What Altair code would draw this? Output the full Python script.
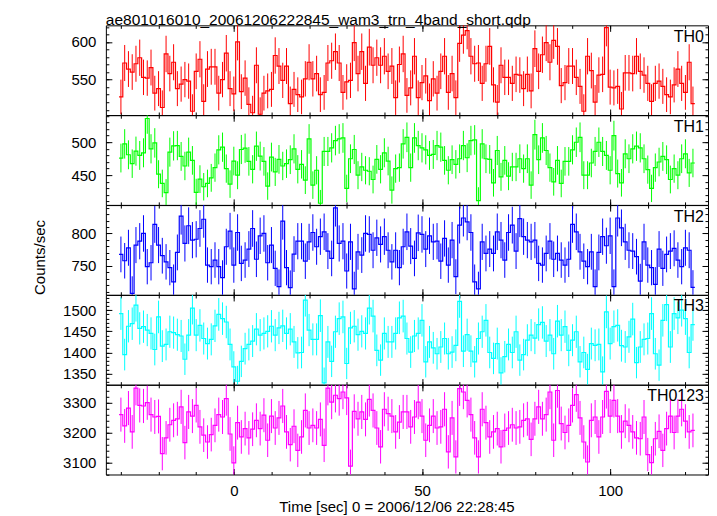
import altair as alt
import pandas as pd
import numpy as np

FONT = "Liberation Sans"
T0 = -30.0   # centre of first 1-s bin
BIN = 1.0
XDOM = [-34, 126]
XMAJOR = [0, 50, 100]
XMINOR = list(range(-30, 126, 10))
XTITLE = "Time [sec] 0 = 2006/12/06 22:28:45"
MAINTITLE = "ae801016010_20061206222845_wam3_trn_4band_short.qdp"

th0 = [527, 572, 564, 560, 571, 579, 553, 552, 566, 532,
       538, 513, 584, 558, 573, 538, 544, 550, 548, 508,
       561, 577, 521, 564, 567, 567, 532, 550, 585, 538,
       531, 600, 534, 552, 517, 506, 569, 504, 532, 535,
       537, 582, 568, 549, 568, 518, 537, 530, 527, 551,
       573, 551, 558, 530, 533, 572, 575, 587, 572, 533,
       547, 549, 599, 558, 587, 545, 593, 569, 579, 569,
       581, 561, 568, 526, 570, 584,
       529, 539, 581, 526, 546, 555, 522, 551, 532, 561,
       581, 533, 558, 526, 598, 609, 615, 581, 571, 572,
       545, 571, 594, 543, 520, 569, 553, 553, 545, 557,
       556, 538, 557, 535, 591, 561, 583, 599, 573, 602,
       594, 542, 546, 568, 568, 553, 541, 508, 581, 562,
       520, 556, 557, 619, 540, 539, 541, 511, 559, 559,
       558, 581, 561, 556, 545, 521, 545, 548, 541, 530,
       527, 543, 564, 545, 533, 573, 518]

th1 = [476, 497.5, 481, 467.5, 486.5, 480, 484, 536, 490, 499,
       451.5, 437.5, 423.5, 485, 494.5, 495, 478.5, 464, 485, 472.5,
       424, 444, 432.5, 437.5, 446, 461.5, 488.5, 492.5, 460, 436.5,
       471.5, 450, 489, 491, 471, 459, 494, 479, 471, 433.5,
       477.5, 455, 474, 464, 467.5, 473.5, 490, 459, 466.5, 442.5,
       505, 435, 457.5, 407.5, 486, 486, 491.5, 502.5, 505, 506.5,
       430, 475, 489, 450, 462.5, 457.5, 456, 443.5, 474, 459,
       484, 471.5, 427.5, 460, 461.5, 497.5, 507.5,
       461.5, 506.5, 495, 491.5, 488.5, 480, 481.5, 495, 492.5, 472.5,
       457.5, 473.5, 466.5, 475, 495, 476.5, 502.5, 503.5, 411.5, 497.5,
       475, 474, 438.5, 487.5, 447.5, 472.5, 448.5, 462.5, 462.5, 475,
       460, 475, 435, 511.5, 473.5, 506.5, 487.5, 461.5, 440, 472.5,
       437.5, 471, 471, 488.5, 500, 507.5, 450, 450, 468.5, 486,
       500, 486, 480, 457.5, 510, 452.5, 438.5, 482.5, 475, 490,
       494, 491.5, 475, 458.5, 430, 461.5, 470, 478.5, 473.5, 443.5,
       460, 450, 475, 482.5, 453.5, 468.5]

th2 = [767.5, 757.7, 777.8, 707, 782, 788, 800, 748.5, 754.6, 814,
       782, 765.5, 756, 747, 725, 770.6, 827, 784.5, 812, 789.7,
       791, 807.7, 822, 751, 748.5, 758.8, 748.5, 731.4, 779.4, 803.6,
       751, 801.5, 753.6, 758.8, 775.8, 807.7, 760, 796.4, 800, 754.6,
       782, 746, 717.5, 819, 747, 716, 768, 788, 788, 757,
       787, 801.5, 779.4, 795, 802.6, 772.7, 761.3, 839.7, 784.5, 788,
       741.8, 787, 714, 771.6, 766.5, 800, 798.5, 774, 793.3, 783,
       795, 774, 756, 774, 747, 779.4, 802.6,
       780.4, 761.3, 801, 798.5, 775.8, 796.4, 787, 788, 757, 792.3,
       751, 789.7, 733, 812.9, 824, 818, 801.5, 725, 714, 787,
       769, 775.8, 769, 802.6, 789.7, 758.8, 801.5, 812.9, 772.7, 823,
       795, 789.7, 787, 789.7, 753.6, 751, 769, 788, 760, 769,
       758.8, 751, 760, 814, 802.6, 771.6, 757, 748.5, 771.6, 717.5,
       770.6, 795, 781, 796.4, 717.5, 824, 808.8, 787, 774, 772.7,
       764, 726, 787, 751, 747, 721, 775.8, 746, 767.5, 772.7,
       777, 758.8, 748.5, 777.8, 774, 716.3]

th3 = [1492, 1395, 1462, 1468, 1512, 1457, 1461, 1453, 1445, 1407,
       1484, 1415, 1419, 1449, 1447, 1442, 1439, 1384, 1441, 1505,
       1441, 1464, 1433, 1421, 1431, 1463, 1490, 1480, 1472, 1419,
       1366, 1332, 1379, 1409, 1419, 1427, 1455, 1441, 1445, 1450,
       1462, 1441, 1458, 1463, 1445, 1455, 1425, 1399, 1400, 1524,
       1453, 1431, 1431, 1487, 1328, 1425, 1379, 1449, 1480, 1484,
       1374, 1458, 1462, 1442, 1450, 1445, 1505, 1486, 1405, 1382,
       1445, 1425, 1425, 1445, 1482, 1486, 1433,
       1401, 1439, 1445, 1476, 1378, 1425, 1411, 1397, 1413, 1433,
       1397, 1401, 1417, 1521, 1403, 1442, 1403, 1378, 1433, 1449,
       1476, 1400, 1386, 1421, 1352, 1390, 1419, 1400, 1449, 1382,
       1395, 1429, 1441, 1434, 1466, 1471, 1427, 1441, 1397, 1474,
       1441, 1461, 1405, 1429, 1449, 1378, 1400, 1360, 1421, 1417,
       1419, 1354, 1496, 1421, 1461, 1464, 1416, 1413, 1437, 1479,
       1376, 1413, 1431, 1433, 1492, 1397, 1370, 1476, 1513, 1413,
       1492, 1482, 1500, 1480, 1400, 1466]

th0123 = [3261, 3223, 3283, 3203, 3350, 3292, 3290, 3301, 3261, 3253,
          3255, 3130, 3183, 3227, 3242, 3247, 3287, 3167, 3270, 3256,
          3292, 3220, 3192, 3169, 3194, 3225, 3261, 3253, 3315, 3196,
          3099, 3234, 3186, 3214, 3183, 3212, 3242, 3214, 3259, 3175,
          3256, 3216, 3250, 3290, 3203, 3160, 3222, 3141, 3186, 3275,
          3216, 3225, 3216, 3245, 3158, 3350, 3303, 3326, 3315, 3337,
          3317, 3088, 3272, 3247, 3270, 3245, 3312, 3275, 3216, 3153,
          3279, 3264, 3256, 3203, 3236, 3270, 3270,
          3220, 3253, 3303, 3256, 3175, 3225, 3256, 3216, 3220, 3279,
          3136, 3250, 3119, 3348, 3337, 3309, 3261, 3183, 3119, 3279,
          3234, 3186, 3203, 3214, 3153, 3208, 3216, 3227, 3216, 3220,
          3242, 3247, 3178, 3247, 3287, 3247, 3261, 3337, 3175, 3342,
          3231, 3201, 3225, 3292, 3328, 3250, 3169, 3102, 3242, 3253,
          3186, 3253, 3339, 3256, 3309, 3256, 3203, 3239, 3225, 3203,
          3183, 3180, 3253, 3127, 3100, 3180, 3205, 3141, 3214, 3256,
          3201, 3256, 3279, 3239, 3203, 3208]

PANELS = [
    ("TH0", th0, "#ff0000", [503, 622], [550, 600], list(range(510, 621, 10))),
    ("TH1", th1, "#00ff00", [405, 541], [450, 500], list(range(410, 541, 10))),
    ("TH2", th2, "#0000ff", [705, 844], [750, 800], list(range(710, 841, 10))),
    ("TH3", th3, "#00ffff", [1324, 1536], [1350, 1400, 1450, 1500], list(range(1330, 1531, 10))),
    ("TH0123", th0123, "#ff00ff", [3060, 3361], [3100, 3200, 3300], list(range(3060, 3361, 20))),
]

W = 603
H = 89.8


def frames(vals):
    n = len(vals)
    t = [T0 + i * BIN for i in range(n)]
    pts = pd.DataFrame({"t": t, "rate": vals})
    pts["err"] = np.sqrt(pts["rate"] * BIN)  # Poisson error of a 1-s bin
    pts["lo"] = pts["rate"] - pts["err"]
    pts["hi"] = pts["rate"] + pts["err"]
    edges = [ti - BIN / 2 for ti in t] + [t[-1] + BIN / 2]
    step = pd.DataFrame({"edge": edges, "rate": list(vals) + [vals[-1]]})
    return pts, step


BASE_AX = dict(domain=False, grid=False, tickColor="black", tickWidth=1,
               minExtent=0, labelFont=FONT, labelFontSize=15, labelColor="black",
               titleFont=FONT, titleFontSize=15, titleColor="black",
               titleFontWeight="normal")


def make_panel(name, vals, color, ydom, ymaj, ymin, ytitle, xlabels):
    pts, step = frames(vals)
    xsc = alt.Scale(domain=XDOM, nice=False, zero=False)
    ysc = alt.Scale(domain=ydom, nice=False, zero=False)

    if xlabels:
        xb_major = alt.Axis(orient="bottom", values=XMAJOR, tickSize=6, offset=-6,
                            labels=True, labelPadding=9, labelFlush=False, format="d",
                            title=XTITLE, titleX=291, titleY=43,
                            titleBaseline="alphabetic", **BASE_AX)
    else:
        xb_major = alt.Axis(orient="bottom", values=XMAJOR, tickSize=6, offset=-6,
                            labels=False, title=None, **BASE_AX)
    xb_minor = alt.Axis(orient="bottom", values=XMINOR, tickSize=3, offset=-3,
                        labels=False, title=None, **BASE_AX)
    xt_major = alt.Axis(orient="top", values=XMAJOR, tickSize=6, offset=-6,
                        labels=False, title=None, **BASE_AX)
    xt_minor = alt.Axis(orient="top", values=XMINOR, tickSize=3, offset=-3,
                        labels=False, title=None, **BASE_AX)

    if ytitle:
        yl_major = alt.Axis(orient="left", values=ymaj, tickSize=6, offset=-6,
                            labelPadding=10, format="d", title="Counts/sec", titleAngle=270,
                            titleX=-72, titleY=52, titleAlign="center",
                            titleBaseline="middle", **BASE_AX)
    else:
        yl_major = alt.Axis(orient="left", values=ymaj, tickSize=6, offset=-6,
                            labelPadding=10, format="d", title=None, **BASE_AX)
    yl_minor = alt.Axis(orient="left", values=ymin, tickSize=3, offset=-3,
                        labels=False, title=None, **BASE_AX)
    yr_major = alt.Axis(orient="right", values=ymaj, tickSize=6, offset=-6,
                        labels=False, title=None, **BASE_AX)
    yr_minor = alt.Axis(orient="right", values=ymin, tickSize=3, offset=-3,
                        labels=False, title=None, **BASE_AX)

    bars = alt.Chart(pts).mark_rule(color=color, strokeWidth=1, clip=True).encode(
        x=alt.X("t:Q", scale=xsc, axis=xb_minor),
        y=alt.Y("lo:Q", scale=ysc, axis=yl_minor),
        y2="hi:Q",
    )
    line = alt.Chart(step).mark_line(interpolate="step-after", color=color,
                                     strokeWidth=1.2, clip=True).encode(
        x=alt.X("edge:Q", scale=xsc, axis=xb_major),
        y=alt.Y("rate:Q", scale=ysc, axis=yl_major),
    )
    ghost1 = alt.Chart(pts).mark_rule(opacity=0).encode(
        x=alt.X("t:Q", scale=xsc, axis=xt_major),
        y=alt.Y("rate:Q", scale=ysc, axis=yr_major),
    )
    ghost2 = alt.Chart(pts).mark_rule(opacity=0).encode(
        x=alt.X("t:Q", scale=xsc, axis=xt_minor),
        y=alt.Y("rate:Q", scale=ysc, axis=yr_minor),
    )
    label = alt.Chart(pd.DataFrame({"label": [name]})).mark_text(
        align="right", baseline="alphabetic", font=FONT, fontSize=16, color="black"
    ).encode(x=alt.value(W - 4), y=alt.value(16.5), text="label:N")

    return alt.layer(bars, line, ghost1, ghost2, label).resolve_axis(
        x="independent", y="independent"
    ).properties(width=W, height=H)


charts = []
for i, (name, vals, color, ydom, ymaj, ymin) in enumerate(PANELS):
    charts.append(make_panel(name, vals, color, ydom, ymaj, ymin,
                             ytitle=(i == 2), xlabels=(i == len(PANELS) - 1)))

chart = alt.vconcat(
    *charts, spacing=0, bounds="flush",
    title=alt.Title(MAINTITLE, anchor="start", frame="group", font=FONT, fontSize=15.5,
                    fontWeight="normal", color="black", baseline="alphabetic", offset=-16),
).configure_view(stroke="black", strokeWidth=1).properties(
    padding={"left": 24, "top": 4, "right": 0, "bottom": 0}
)

chart.save("out.html", embed_options={"renderer": "svg", "actions": False})
